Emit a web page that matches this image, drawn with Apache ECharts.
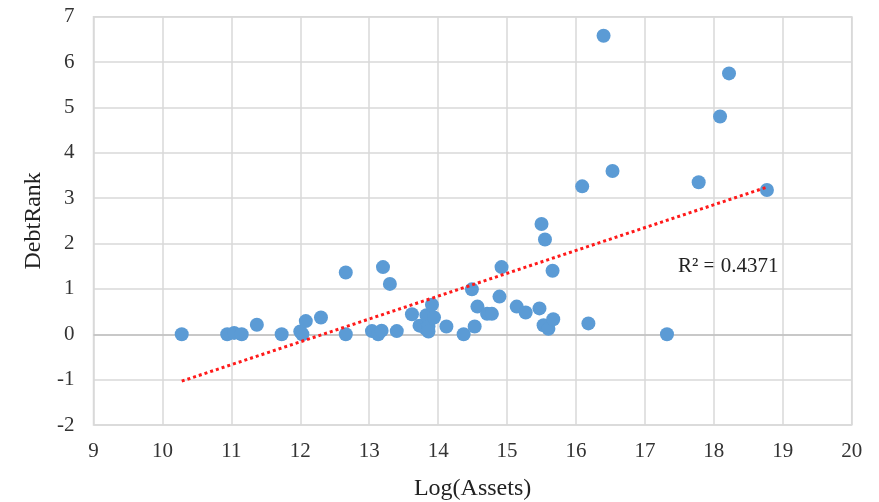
<!DOCTYPE html>
<html>
<head>
<meta charset="utf-8">
<script src="https://cdn.jsdelivr.net/npm/echarts@6/dist/echarts.min.js"></script>
<style>
  html, body { margin: 0; padding: 0; background: #fff; }
  #chart { width: 879px; height: 502px; }
</style>
</head>
<body>
<div id="chart"></div>
<script>
// Log of total assets per institution
const logAssets = [
  10.28, 10.94, 11.04, 11.15, 11.37, 11.73, 12.00, 12.03, 12.08, 12.30,
  12.66, 12.66, 13.04, 13.13, 13.18, 13.20, 13.30, 13.40, 13.62, 13.73,
  13.82, 13.83, 13.86, 13.86, 13.91, 13.94, 14.12, 14.37, 14.49, 14.53,
  14.57, 14.71, 14.78, 14.89, 14.92, 15.14, 15.27, 15.47, 15.50, 15.55,
  15.53, 15.60, 15.67, 15.66, 16.09, 16.18, 16.40, 16.53, 17.32, 17.78,
  18.09, 18.22, 18.77
];
// DebtRank of the same institutions
const debtRank = [
  0.00, 0.00, 0.03, 0.00, 0.21, 0.00, 0.06, 0.00, 0.29, 0.37,
  1.36, 0.00, 0.07, 0.00, 0.08, 1.48, 1.11, 0.07, 0.44, 0.19,
  0.12, 0.42, 0.17, 0.06, 0.65, 0.37, 0.17, 0.00, 0.99, 0.17,
  0.61, 0.45, 0.45, 0.83, 1.48, 0.61, 0.48, 0.57, 2.43, 2.09,
  0.20, 0.12, 0.33, 1.40, 3.26, 0.24, 6.58, 3.60, 0.00, 3.35,
  4.80, 5.75, 3.18
];
const rSquaredLabel = 'R² = 0.4371';

// least-squares linear trend over the observed range
const n = logAssets.length;
const mx = logAssets.reduce((s, v) => s + v, 0) / n;
const my = debtRank.reduce((s, v) => s + v, 0) / n;
let sxy = 0, sxx = 0;
for (let i = 0; i < n; i++) {
  sxy += (logAssets[i] - mx) * (debtRank[i] - my);
  sxx += (logAssets[i] - mx) ** 2;
}
const slope = sxy / sxx;
const intercept = my - slope * mx;
const xMin = Math.min(...logAssets);
const xMax = Math.max(...logAssets);
const trend = [[xMin, intercept + slope * xMin], [xMax, intercept + slope * xMax]];

const points = logAssets.map((x, i) => [x, debtRank[i]]);

const font = 'Liberation Serif, Times New Roman, serif';
const gridColor = '#d9d9d9';

const chart = echarts.init(document.getElementById('chart'), null, { renderer: 'canvas' });
chart.setOption({
  animation: false,
  backgroundColor: '#ffffff',
  grid: {
    left: 93.5, right: 27.3, top: 16.7, bottom: 77,
    outerBoundsMode: 'none',
    show: true, borderColor: gridColor, borderWidth: 1.5
  },
  xAxis: {
    type: 'value', min: 9, max: 20, interval: 1,
    name: 'Log(Assets)', nameLocation: 'middle', nameGap: 52,
    nameTextStyle: { fontFamily: font, fontSize: 24, color: '#222' },
    axisLine: { show: false }, axisTick: { show: false },
    axisLabel: { fontFamily: font, fontSize: 21, color: '#333', margin: 16 },
    splitLine: { show: true, lineStyle: { color: gridColor, width: 1.5 } }
  },
  yAxis: {
    type: 'value', min: -2, max: 7, interval: 1,
    name: 'DebtRank', nameLocation: 'middle', nameGap: 47,
    nameTextStyle: { fontFamily: font, fontSize: 24, color: '#222' },
    axisLine: { show: false }, axisTick: { show: false },
    axisLabel: { fontFamily: font, fontSize: 21, color: '#333', margin: 19 },
    splitLine: { show: true, lineStyle: { color: gridColor, width: 1.5 } }
  },
  series: [
    {
      type: 'scatter',
      data: points,
      symbol: 'circle',
      symbolSize: 14,
      itemStyle: { color: '#5b9bd5', opacity: 1 },
      z: 3,
      markLine: {
        silent: true, symbol: 'none', label: { show: false },
        lineStyle: { color: '#bfbfbf', width: 1.5, type: 'solid' },
        data: [{ yAxis: 0 }],
        z: 1
      }
    },
    {
      type: 'line',
      data: trend,
      symbol: 'none',
      lineStyle: { color: '#ff1a1a', width: 3, type: 'dotted' },
      z: 4,
      silent: true
    }
  ],
  graphic: [{
    type: 'text', left: 678, top: 256,
    style: { text: rSquaredLabel, font: '21px ' + font, fill: '#222' }
  }]
});
</script>
</body>
</html>
